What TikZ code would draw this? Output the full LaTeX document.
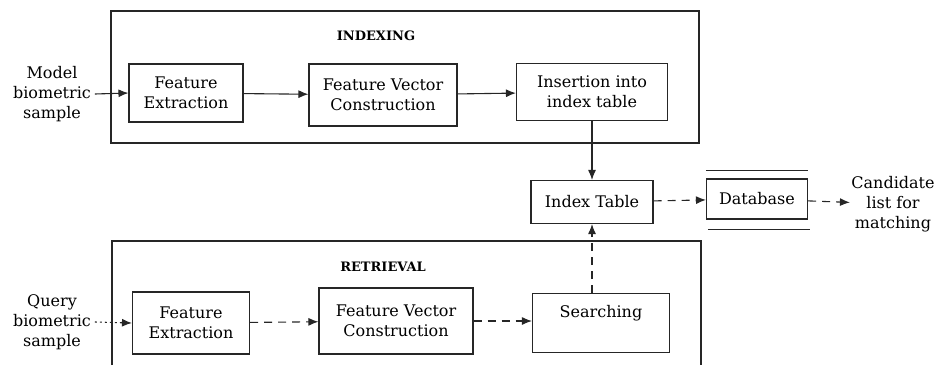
\documentclass[tikz,border=0pt]{standalone}
\usepackage{fontspec}
\setmainfont{DejaVu Serif}
\usetikzlibrary{arrows.meta}

\begin{document}
\begin{tikzpicture}[x=1pt,y=-1pt,
  line width=1.1pt, draw=black!85,
  font=\fontsize{16}{20}\selectfont,
  box/.style={draw,inner sep=0pt,align=center},
  ttl/.style={font=\fontsize{13}{16}\selectfont\bfseries},
  arr/.style={-{Latex[length=10pt,width=8pt]}},
  dsh/.style={arr,dash pattern=on 8pt off 6pt},
  dot/.style={arr,dash pattern=on 2pt off 3pt}]
\useasboundingbox (0,0) rectangle (936,365);

% indexing part
\draw (111,11) rectangle (699,143);
\node (ti) [ttl] at (376,36) {INDEXING};
\node (m) [align=center] at (52,94) {Model\\biometric\\sample};
\node (fe1) [box,minimum width=114,minimum height=58] at (186,93) {Feature\\Extraction};
\node (fv1) [box,minimum width=148,minimum height=62] at (383,95) {Feature Vector\\Construction};
\node (ins) [box,minimum width=151,minimum height=57] at (592,92) {Insertion into\\index table};
\draw[arr] (m.east) -- (fe1.west);
\draw[arr] (fe1) -- (fv1);
\draw[arr] (fv1) -- (ins);

% index table and database
\node (it) [box,minimum width=122,minimum height=43] at (592,202) {Index Table};
\node (db) [box,minimum width=101,minimum height=40] at (757,199) {Database};
\draw ([yshift=8pt]db.north west) -- ([yshift=8pt]db.north east);
\draw ([shift={(2pt,-10pt)}]db.south west) -- ([shift={(2pt,-10pt)}]db.south east);
\node (c) [align=center,inner sep=1pt] at (893,204) {Candidate\\list for\\matching};
\draw[arr] (ins) -- (it);
\draw[dsh] (it) -- (db);
\draw[dsh] (db) -- (c);

% retrieval part
\draw (112,365) |- (701,241) -- (701,365);
\node (tr) [ttl] at (383,267) {RETRIEVAL};
\node (q) [align=center] at (52,322) {Query\\biometric\\sample};
\node (fe2) [box,minimum width=117,minimum height=62] at (191,323) {Feature\\Extraction};
\node (fv2) [box,minimum width=154,minimum height=66] at (396,321) {Feature Vector\\Construction};
\node (s) [box,minimum width=137,text height=24pt,text depth=35pt,anchor=north] at (601,293) {Searching};
\draw[dot] (q.east) -- (fe2.west);
\draw[dsh] (fe2) -- (fv2);
\draw[dsh] (fv2.east) -- (fv2.east -| s.west);
\draw[dsh] (s.north -| it.south) -- (it.south);
\end{tikzpicture}
\end{document}
